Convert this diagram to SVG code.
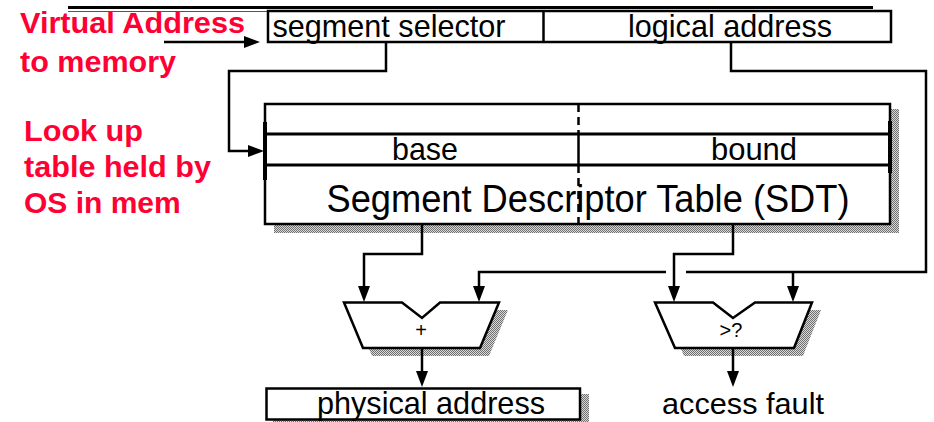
<svg xmlns="http://www.w3.org/2000/svg" width="934" height="422" viewBox="0 0 934 422">
<style>
.box{fill:#fff;stroke:#000;stroke-width:2.5}
.conn{fill:none;stroke:#000;stroke-width:2.5}
.lbl{font-family:"Liberation Sans",Arial,sans-serif;fill:#000;text-anchor:middle}
.red{font-family:"Liberation Sans",Arial,sans-serif;font-weight:bold;font-size:30px;fill:#ff0033}
.shadow{fill:url(#stip)}
</style>
<defs>
<pattern id="stip" width="2" height="2" patternUnits="userSpaceOnUse">
<rect width="2" height="2" fill="#d8d8d8"/>
<rect width="1" height="1" fill="#707070"/>
<rect x="1" y="1" width="1" height="1" fill="#707070"/>
</pattern>
<marker id="ah" viewBox="0 0 16 12" refX="6" refY="6" markerWidth="16" markerHeight="12" markerUnits="userSpaceOnUse" orient="auto">
<path d="M0,0 L16,6 L0,12 z" fill="#000"/>
</marker>
</defs>
<rect width="934" height="422" fill="#fff"/>
<g id="title-rule">
<line x1="68" y1="7.5" x2="873" y2="7.5" stroke="#000" stroke-width="3"/>
<line x1="68" y1="11.5" x2="268" y2="11.5" stroke="#555" stroke-width="1"/>
</g>
<g id="labels-red">
<text class="red" x="20" y="33" textLength="225" lengthAdjust="spacingAndGlyphs">Virtual Address</text>
<text class="red" x="20" y="72" textLength="156" lengthAdjust="spacingAndGlyphs">to memory</text>
<text class="red" x="24" y="141" textLength="119" lengthAdjust="spacingAndGlyphs">Look up</text>
<text class="red" x="24" y="177" textLength="187" lengthAdjust="spacingAndGlyphs">table held by</text>
<text class="red" x="24" y="213">OS in mem</text>
</g>
<g id="virtual-address">
<rect class="box" x="268" y="11" width="623" height="31"/>
<line x1="543.5" y1="11" x2="543.5" y2="42" stroke="#000" stroke-width="2.5"/>
<text class="lbl" x="389" y="37" font-size="32" textLength="233" lengthAdjust="spacingAndGlyphs">segment selector</text>
<text class="lbl" x="730" y="37" font-size="32" textLength="204" lengthAdjust="spacingAndGlyphs">logical address</text>
</g>
<g id="sdt">
<rect class="shadow" x="274" y="109" width="625" height="124"/>
<rect class="box" x="265" y="104" width="625" height="120"/>
<line x1="265" y1="134" x2="890" y2="134" stroke="#000" stroke-width="3"/>
<line x1="265" y1="165" x2="890" y2="165" stroke="#000" stroke-width="3"/>
<line x1="578.5" y1="104" x2="578.5" y2="134" stroke="#000" stroke-width="2.5" stroke-dasharray="8 5"/>
<line x1="578.5" y1="134" x2="578.5" y2="165" stroke="#000" stroke-width="2.5"/>
<line x1="578.5" y1="165" x2="578.5" y2="224" stroke="#000" stroke-width="2.5" stroke-dasharray="8 5"/>
<rect x="263" y="122" width="4" height="58" fill="#000"/>
<rect x="888" y="121" width="4" height="52" fill="#000"/>
<text class="lbl" x="425" y="160" font-size="32" textLength="66" lengthAdjust="spacingAndGlyphs">base</text>
<text class="lbl" x="754" y="160" font-size="32" textLength="86" lengthAdjust="spacingAndGlyphs">bound</text>
<text class="lbl" x="588" y="212" font-size="38" textLength="523" lengthAdjust="spacingAndGlyphs">Segment Descriptor Table (SDT)</text>
</g>
<g id="adder">
<polygon class="shadow" points="353,310 411,310 431,326 449,310 508,310 489,356 372,356"/>
<polygon class="box" points="344,302.5 402,302.5 422,318 440,302.5 499,302.5 480,348 363,348"/>
<text class="lbl" x="421" y="337" font-size="20">+</text>
</g>
<g id="comparator">
<polygon class="shadow" points="664,310 722,310 742,326 764,310 821,310 803,356 684,356"/>
<polygon class="box" points="655,302.5 713,302.5 733,318 755,302.5 812,302.5 794,348 675,348"/>
<text class="lbl" x="731" y="337" font-size="20">&gt;?</text>
</g>
<g id="physical-address">
<rect class="shadow" x="273" y="394" width="316" height="30"/>
<rect class="box" x="266.5" y="388.5" width="313.5" height="31"/>
<text class="lbl" x="431" y="414" font-size="32" textLength="228" lengthAdjust="spacingAndGlyphs">physical address</text>
</g>
<g id="access-fault">
<text class="lbl" x="743" y="414" font-size="30" textLength="162" lengthAdjust="spacingAndGlyphs">access fault</text>
</g>
<g id="connectors">
<path class="conn" d="M164,42 H250" marker-end="url(#ah)"/>
<path class="conn" d="M386,42 V71 H229 V151 H254" marker-end="url(#ah)"/>
<path class="conn" d="M731,42 V71 H926 V272 H686"/>
<path class="conn" d="M666,272 H479 V292" marker-end="url(#ah)"/>
<path class="conn" d="M793,272 V292" marker-end="url(#ah)"/>
<path class="conn" d="M422,224 V254 H364 V292" marker-end="url(#ah)"/>
<path class="conn" d="M733,224 V254 H674 V292" marker-end="url(#ah)"/>
<path class="conn" d="M422,348 V377" marker-end="url(#ah)"/>
<path class="conn" d="M733,348 V377" marker-end="url(#ah)"/>
</g>
</svg>
